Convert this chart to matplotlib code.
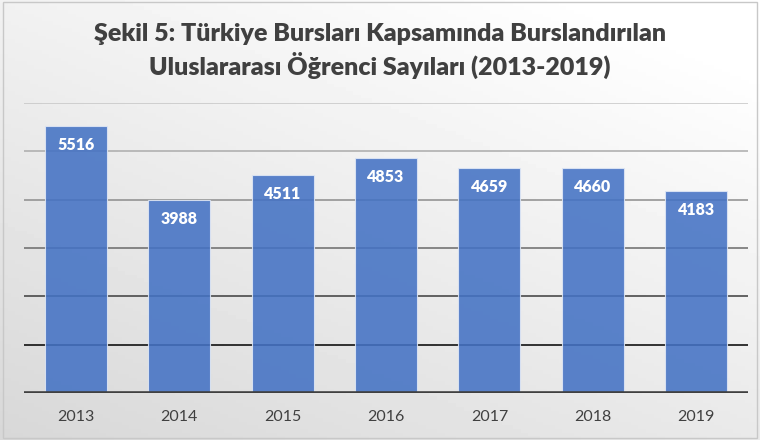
import numpy as np
import matplotlib.pyplot as plt
from matplotlib.patches import Rectangle

# data
years = ['2013', '2014', '2015', '2016', '2017', '2018', '2019']
students = [5516, 3988, 4511, 4853, 4659, 4660, 4183]
grid_levels = [1000, 2000, 3000, 4000, 5000, 6000]
grid_colors = ['#000000', '#3c3c3c', '#6a6a6a', '#8c8c8c', '#ababab', '#c6c6c6']

title = 'Şekil 5: Türkiye Bursları Kapsamında Burslandırılan\nUluslararası Öğrenci Sayıları (2013-2019)'

plt.rcParams['font.family'] = ['Lato', 'DejaVu Sans']

fig = plt.figure(figsize=(7.6, 4.4), dpi=100)

# background gradient (white top-right -> light gray bottom-left)
bg = fig.add_axes([0, 0, 1, 1], zorder=-10)
xx, yy = np.meshgrid(np.linspace(0, 1, 200), np.linspace(1, 0, 120))
shade = 0.845 + 0.155 * np.clip(0.45 * xx + 0.65 * yy, 0, 1)
bg.imshow(shade, cmap='gray', vmin=0, vmax=1, aspect='auto', extent=[0, 1, 0, 1])
bg.add_patch(Rectangle((0.004, 0.005), 0.992, 0.99, fill=False, edgecolor='#c8c8c8', lw=1.0))
bg.set_xlim(0, 1)
bg.set_ylim(0, 1)
bg.axis('off')

ax = fig.add_axes([24 / 760, 1 - 393 / 440, 724 / 760, 290 / 440])
ax.patch.set_alpha(0)

x = np.arange(len(years))
for lvl, c in zip(grid_levels, grid_colors):
    ax.axhline(lvl, color=c, lw=1.1, zorder=1)

bars = ax.bar(x, students, width=0.6, color='#4472C4', alpha=0.88,
              edgecolor='#dfe7f5', linewidth=0.8, zorder=2)
for xi, v in zip(x, students):
    ax.text(xi, v - 390, str(v), ha='center', va='center', color='white',
            fontsize=11.5, fontweight='heavy', zorder=3)

ax.axhline(0, color='#404040', lw=2.6, zorder=4)
ax.set_xlim(-0.5, len(years) - 0.5)
ax.set_ylim(0, 6000)
ax.set_xticks(x)
ax.set_xticklabels(years, fontsize=11.5, color='#404040')
ax.tick_params(axis='x', length=0, pad=12)
ax.set_yticks([])
for s in ax.spines.values():
    s.set_visible(False)

fig.text(0.5, 1 - 51 / 440, title, ha='center', va='center', fontsize=18,
         fontweight='heavy', color='#404040', linespacing=1.3)

fig.savefig('out.png', dpi=100)
